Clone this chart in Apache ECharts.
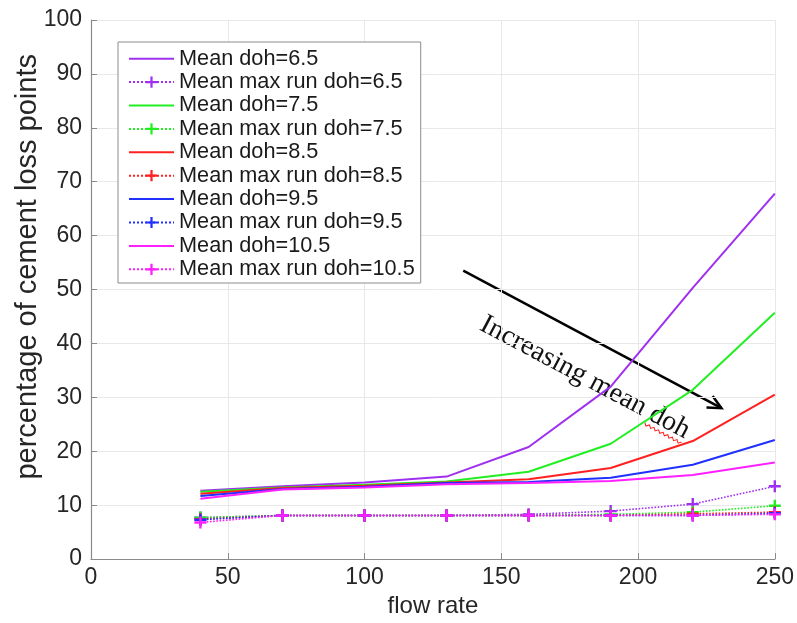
<!DOCTYPE html>
<html>
<head>
<meta charset="utf-8">
<script src="https://cdn.jsdelivr.net/npm/echarts@6/dist/echarts.min.js"></script>
<style>
html,body{margin:0;padding:0;background:#fff;}
#chart{width:797px;height:623px;}
</style>
</head>
<body>
<div id="chart"></div>
<script>
var flowRates = [40, 70, 100, 130, 160, 190, 220, 250];

var mean65 = [12.7, 13.5, 14.2, 15.3, 20.8, 32.0, 50.3, 67.8];
var max65  = [7.7, 8.1, 8.1, 8.1, 8.3, 8.9, 10.2, 13.5];
var mean75 = [12.5, 13.3, 13.8, 14.4, 16.2, 21.4, 31.4, 45.7];
var max75  = [7.7, 8.1, 8.1, 8.1, 8.1, 8.3, 8.7, 9.9];
var mean85 = [12.1, 13.2, 13.6, 14.2, 14.8, 16.9, 21.9, 30.5];
var max85  = [7.4, 8.1, 8.1, 8.1, 8.1, 8.1, 8.4, 8.7];
var mean95 = [11.7, 13.0, 13.4, 14.1, 14.3, 15.1, 17.5, 22.1];
var max95  = [7.3, 8.1, 8.1, 8.1, 8.1, 8.1, 8.1, 8.5];
var mean105 = [11.2, 12.9, 13.3, 13.9, 14.1, 14.5, 15.6, 17.9];
var max105  = [6.8, 8.1, 8.1, 8.1, 8.1, 8.1, 8.1, 8.3];

var seriesNames = [
  'Mean doh=6.5', 'Mean max run doh=6.5',
  'Mean doh=7.5', 'Mean max run doh=7.5',
  'Mean doh=8.5', 'Mean max run doh=8.5',
  'Mean doh=9.5', 'Mean max run doh=9.5',
  'Mean doh=10.5', 'Mean max run doh=10.5'
];
var seriesValues = [mean65, max65, mean75, max75, mean85, max85, mean95, max95, mean105, max105];
var colors = ['#a030f0', '#a030f0', '#22ee22', '#22ee22', '#ff2020', '#ff2020', '#2030ff', '#2030ff', '#ff20ff', '#ff20ff'];

var xTicks = [0, 50, 100, 150, 200, 250];
var yTicks = [0, 10, 20, 30, 40, 50, 60, 70, 80, 90, 100];

var annotationText = 'Increasing mean doh';
var arrowFrom = [136.1, 53.5];
var arrowTo = [230.5, 28.0];
var annotationAt = [182.5, 35.5];

var plusPath = 'path://M4,0h2v4h4v2h-4v4h-2v-4h-4v-2h4z';

var font = '"Liberation Sans", Arial, Helvetica, sans-serif';

var series = seriesNames.map(function (name, i) {
  var isMax = (i % 2 === 1);
  return {
    name: name,
    type: 'line',
    data: flowRates.map(function (x, j) { return [x, seriesValues[i][j]]; }),
    symbol: isMax ? plusPath : 'none',
    symbolSize: 12,
    showSymbol: isMax,
    color: colors[i],
    lineStyle: { color: colors[i], width: isMax ? 1.6 : 2, type: isMax ? 'dotted' : 'solid' },
    itemStyle: { color: colors[i] },
    animation: false,
    z: 2 + i
  };
});

var legendData = seriesNames.map(function (name, i) {
  if (i % 2 === 1) return { name: name };
  return { name: name, itemStyle: { color: 'rgba(0,0,0,0)', borderWidth: 0, opacity: 0 } };
});

var chart = echarts.init(document.getElementById('chart'), null, { renderer: 'canvas' });

var yNameGraphic = {
  type: 'text', left: 13, top: 54,
  rotation: Math.PI / 2,
  style: { text: 'percentage of cement loss points', fontFamily: font, fontSize: 29, fill: '#262626' }
};

chart.setOption({
  animation: false,
  backgroundColor: '#ffffff',
  grid: { left: 91, right: 21, top: 20, bottom: 59, containLabel: false },
  xAxis: {
    type: 'value',
    min: 0, max: 250, interval: 50,
    name: 'flow rate',
    nameLocation: 'middle',
    nameGap: 33,
    nameTextStyle: { fontFamily: font, fontSize: 24, color: '#262626' },
    axisLine: { show: true, lineStyle: { color: '#8a8a8a', width: 1.2 } },
    axisTick: { show: true, inside: true, length: 6, lineStyle: { color: '#8a8a8a' } },
    axisLabel: { fontFamily: font, fontSize: 23, color: '#262626', margin: 7,
      formatter: function (v) { return xTicks.indexOf(v) >= 0 ? String(v) : ''; } },
    splitLine: { show: true, lineStyle: { color: '#e8e8e8', width: 1 } }
  },
  yAxis: {
    type: 'value',
    min: 0, max: 100, interval: 10,
    axisLine: { show: true, lineStyle: { color: '#8a8a8a', width: 1.2 } },
    axisTick: { show: true, inside: true, length: 6, lineStyle: { color: '#8a8a8a' } },
    axisLabel: { fontFamily: font, fontSize: 23, color: '#262626', margin: 9,
      formatter: function (v) { return yTicks.indexOf(v) >= 0 ? String(v) : ''; } },
    splitLine: { show: true, lineStyle: { color: '#e8e8e8', width: 1 } }
  },
  legend: {
    orient: 'vertical',
    left: 118, top: 42,
    padding: [5, 6, 2, 10],
    itemGap: 0,
    itemWidth: 45,
    itemHeight: 14,
    backgroundColor: '#ffffff',
    borderColor: '#8c8c8c',
    borderWidth: 1,
    borderRadius: 0,
    textStyle: { fontFamily: font, fontSize: 21.7, color: '#1a1a1a', lineHeight: 23.4, padding: [0, 0, 0, 0] },
    data: legendData
  },
  graphic: [yNameGraphic],
  series: series
});

var p1 = chart.convertToPixel({ gridIndex: 0 }, arrowFrom);
var p2 = chart.convertToPixel({ gridIndex: 0 }, arrowTo);
var ang = Math.atan2(p2[1] - p1[1], p2[0] - p1[0]);
var headLen = 15, headAng = 0.45;
var h1 = [p2[0] - headLen * Math.cos(ang - headAng), p2[1] - headLen * Math.sin(ang - headAng)];
var h2 = [p2[0] - headLen * Math.cos(ang + headAng), p2[1] - headLen * Math.sin(ang + headAng)];

var textCenter = chart.convertToPixel({ gridIndex: 0 }, annotationAt);
var textRot = -28 * Math.PI / 180;
var squiggle = [];
for (var k = 0; k <= 16; k++) {
  squiggle.push([74 + k * 2.6, 24 + (k % 2 === 0 ? -1.3 : 1.3)]);
}

chart.setOption({
  graphic: [
    yNameGraphic,
    {
      type: 'group',
      z: 100,
      children: [
        { type: 'line', shape: { x1: p1[0], y1: p1[1], x2: p2[0], y2: p2[1] },
          style: { stroke: '#000', lineWidth: 2.5 } },
        { type: 'polyline', shape: { points: [h1, p2, h2] },
          style: { stroke: '#000', lineWidth: 2.5, fill: null } }
      ]
    },
    {
      type: 'group',
      x: textCenter[0], y: textCenter[1],
      rotation: textRot,
      z: 101,
      children: [
        { type: 'text', x: 0, y: 11,
          style: { text: annotationText, fontFamily: '"Liberation Serif", "Times New Roman", serif',
            fontSize: 28, fill: '#111', align: 'center', verticalAlign: 'middle' } },
        { type: 'polyline', shape: { points: squiggle },
          style: { stroke: '#ff2020', lineWidth: 1, fill: null } }
      ]
    }
  ]
});
</script>
</body>
</html>
